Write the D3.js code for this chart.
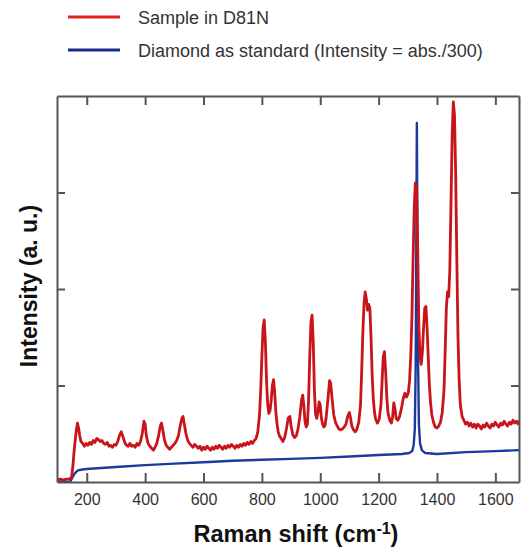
<!DOCTYPE html>
<html>
<head>
<meta charset="utf-8">
<script src="https://cdn.jsdelivr.net/npm/d3@7"></script>
<style>
  body { margin: 0; background: #fff; }
  text { font-family: "Liberation Sans", Arial, sans-serif; }
</style>
</head>
<body>
<div id="spectrum"></div>
<script>
// Raman shift (cm-1) and intensity of the sample
var sampleShift = [100,110,120,130,140,148,152,156,160,164,168,172,176,180,186,192,198,204,210,216,222,228,234,240,246,252,258,264,270,276,282,288,294,300,306,312,318,324,330,336,342,348,354,360,366,372,378,384,390,396,400,404,410,416,422,428,434,440,446,452,456,460,466,472,478,484,490,496,502,508,514,520,526,530,534,540,546,552,558,564,570,576,582,588,594,600,606,612,618,624,630,636,642,648,654,660,666,672,678,684,690,696,702,708,714,720,726,732,738,744,750,756,762,768,774,780,786,792,796,800,804,808,812,816,820,824,828,832,836,840,844,848,852,856,860,866,872,878,884,890,896,900,906,912,918,924,930,936,940,944,948,952,956,960,964,968,972,976,980,984,988,992,996,1000,1004,1008,1012,1016,1020,1026,1032,1036,1040,1046,1052,1058,1064,1070,1076,1082,1088,1094,1100,1104,1108,1114,1120,1126,1132,1138,1142,1146,1150,1154,1158,1162,1166,1170,1174,1178,1182,1186,1190,1196,1202,1208,1212,1216,1220,1224,1228,1232,1238,1244,1248,1252,1256,1260,1266,1272,1278,1284,1290,1296,1302,1306,1310,1314,1318,1322,1326,1330,1334,1338,1342,1346,1350,1354,1358,1362,1366,1370,1374,1378,1382,1388,1394,1400,1406,1412,1418,1424,1428,1432,1436,1440,1444,1448,1452,1456,1460,1464,1468,1472,1476,1480,1486,1492,1498,1504,1510,1516,1522,1528,1534,1540,1546,1552,1558,1564,1570,1576,1582,1588,1594,1600,1606,1612,1618,1624,1630,1636,1642,1648,1654,1660,1666,1672,1678,1681];
var sampleIntensity = [0.02,0.03,0.02,0.03,0.03,0.05,0.15,0.30,0.42,0.53,0.61,0.56,0.48,0.42,0.40,0.37,0.40,0.38,0.41,0.39,0.43,0.41,0.45,0.44,0.42,0.43,0.40,0.39,0.41,0.37,0.38,0.36,0.39,0.38,0.42,0.48,0.52,0.47,0.41,0.38,0.37,0.40,0.37,0.38,0.36,0.40,0.38,0.42,0.50,0.63,0.60,0.48,0.40,0.37,0.35,0.33,0.36,0.40,0.48,0.58,0.61,0.55,0.44,0.38,0.36,0.34,0.36,0.38,0.40,0.43,0.48,0.58,0.66,0.68,0.60,0.50,0.43,0.40,0.38,0.36,0.39,0.37,0.35,0.37,0.33,0.36,0.34,0.37,0.35,0.33,0.36,0.34,0.37,0.35,0.38,0.36,0.34,0.37,0.35,0.38,0.36,0.39,0.37,0.35,0.38,0.36,0.39,0.37,0.40,0.38,0.41,0.39,0.42,0.40,0.43,0.45,0.52,0.70,0.95,1.30,1.60,1.68,1.45,1.05,0.80,0.71,0.74,0.85,1.00,1.06,0.92,0.72,0.60,0.52,0.48,0.45,0.42,0.46,0.55,0.66,0.68,0.58,0.49,0.46,0.48,0.55,0.68,0.85,0.90,0.78,0.62,0.57,0.60,0.85,1.30,1.65,1.73,1.45,0.95,0.70,0.66,0.72,0.83,0.80,0.66,0.60,0.57,0.58,0.66,0.85,1.05,1.02,0.88,0.70,0.62,0.58,0.55,0.54,0.55,0.57,0.60,0.68,0.72,0.66,0.58,0.54,0.52,0.55,0.62,0.80,1.15,1.55,1.85,1.97,1.90,1.78,1.84,1.80,1.50,1.10,0.85,0.72,0.65,0.61,0.65,0.80,1.05,1.30,1.35,1.15,0.88,0.72,0.64,0.61,0.68,0.82,0.76,0.66,0.64,0.68,0.76,0.86,0.92,0.88,0.93,1.05,1.30,1.70,2.30,2.85,3.10,3.05,2.40,1.60,1.30,1.22,1.35,1.60,1.80,1.82,1.60,1.30,1.00,0.82,0.70,0.62,0.57,0.56,0.58,0.62,0.72,0.95,1.35,1.80,1.97,1.92,2.20,2.90,3.60,3.94,3.80,3.20,2.30,1.50,1.05,0.80,0.68,0.64,0.60,0.62,0.58,0.61,0.57,0.60,0.56,0.60,0.58,0.55,0.59,0.57,0.61,0.58,0.56,0.60,0.58,0.62,0.59,0.57,0.61,0.59,0.63,0.60,0.58,0.62,0.60,0.64,0.61,0.63,0.60,0.64];

// diamond standard (already divided by 300)
var diamondShift = [100,130,142,148,155,162,170,185,200,300,400,500,600,700,800,900,1000,1100,1200,1280,1305,1315,1320,1324,1327,1329,1331,1333,1335,1338,1342,1348,1360,1400,1500,1600,1681];
var diamondIntensity = [0,0,0,0.03,0.07,0.10,0.12,0.13,0.135,0.155,0.175,0.19,0.205,0.22,0.23,0.24,0.25,0.265,0.28,0.29,0.30,0.32,0.38,0.55,1.2,2.4,3.72,2.6,1.3,0.6,0.40,0.33,0.30,0.29,0.31,0.32,0.33];

var xTicks = [200,400,600,800,1000,1200,1400,1600];
var yTicks = [1,2,3];

var legendNames = ["Sample in D81N", "Diamond as standard (Intensity = abs./300)"];
var lineColors = ["#c8141a", "#1c3a9e"];
var legendColors = ["#e0231e", "#1a2a88"];

// set the dimensions and margins of the graph
var margin = {top: 96, right: 5, bottom: 65, left: 57},
  width = 524 - margin.left - margin.right,
  height = 547 - margin.top - margin.bottom;

var svg = d3.select("#spectrum")
.append("svg")
  .attr("width", 524)
  .attr("height", 547);

var g = svg.append("g")
  .attr("transform", "translate(" + margin.left + "," + margin.top + ")");

var x = d3.scaleLinear().domain([98, 1681]).range([0, width]);
var y = d3.scaleLinear().domain([0, 4]).range([height, 0]);

var sample = sampleShift.map((s, i) => [s, sampleIntensity[i]]);
var diamond = diamondShift.map((s, i) => [s, diamondIntensity[i]]);

var line = d3.line()
  .x(d => x(d[0]))
  .y(d => y(d[1]));

// clip so nothing sticks out of the frame
g.append("clipPath").attr("id", "clip")
  .append("rect").attr("width", width).attr("height", height);

var plot = g.append("g").attr("clip-path", "url(#clip)");

plot.append("path")
  .datum(diamond)
  .attr("fill", "none")
  .attr("stroke", lineColors[1])
  .attr("stroke-width", 2.4)
  .attr("stroke-linejoin", "round")
  .attr("d", line);

plot.append("path")
  .datum(sample)
  .attr("fill", "none")
  .attr("stroke", lineColors[0])
  .attr("stroke-width", 2.8)
  .attr("stroke-linejoin", "round")
  .attr("d", line);

// axes: ticks point inward on all four sides
var bottom = g.append("g")
  .attr("transform", "translate(0," + height + ")")
  .call(d3.axisBottom(x).tickValues(xTicks).tickFormat(d3.format("d"))
    .tickSize(-9).tickSizeOuter(0).tickPadding(12));

g.append("g")
  .call(d3.axisTop(x).tickValues(xTicks).tickSize(-9).tickSizeOuter(0).tickFormat(""));

g.append("g")
  .call(d3.axisLeft(y).tickValues(yTicks).tickSize(-8).tickSizeOuter(0).tickFormat(""));

g.append("g")
  .attr("transform", "translate(" + width + ",0)")
  .call(d3.axisRight(y).tickValues(yTicks).tickSize(-8).tickSizeOuter(0).tickFormat(""));

g.selectAll(".domain, .tick line")
  .attr("stroke", "#555")
  .attr("stroke-width", 2);

bottom.selectAll("text")
  .attr("font-size", 16)
  .attr("fill", "#333")
  .style("font-family", "'Liberation Sans', Arial, sans-serif");

// axis titles
var xLabel = svg.append("text")
  .attr("x", 296)
  .attr("y", 542)
  .attr("text-anchor", "middle")
  .attr("font-size", 23.5)
  .attr("font-weight", "bold")
  .attr("fill", "#111");
xLabel.append("tspan").text("Raman shift (cm");
xLabel.append("tspan").attr("font-size", 16).attr("dy", -8).text("-1");
xLabel.append("tspan").attr("dy", 8).text(")");

svg.append("text")
  .attr("transform", "translate(37,286) rotate(-90)")
  .attr("text-anchor", "middle")
  .attr("font-size", 23)
  .attr("font-weight", "bold")
  .attr("fill", "#111")
  .text("Intensity (a. u.)");

// legend
var legend = svg.selectAll(".legend")
  .data(legendNames)
  .enter()
  .append("g")
    .attr("class", "legend")
    .attr("transform", (d, i) => "translate(0," + (17 + i * 33) + ")");

legend.append("line")
  .attr("x1", 68).attr("x2", 120)
  .attr("stroke", (d, i) => legendColors[i])
  .attr("stroke-width", 3);

legend.append("text")
  .attr("x", 138)
  .attr("y", 6.5)
  .attr("font-size", 18)
  .attr("fill", "#333")
  .text(d => d);
</script>
</body>
</html>
